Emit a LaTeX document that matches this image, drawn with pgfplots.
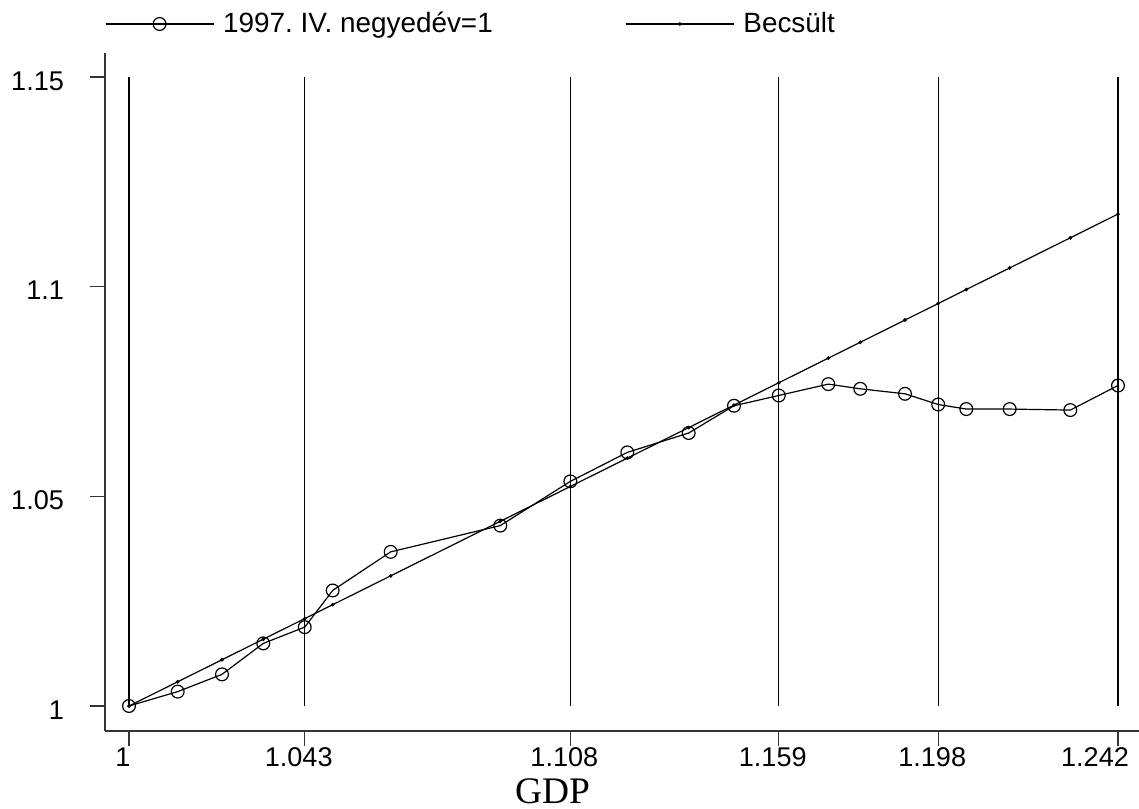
\documentclass[border=0pt]{standalone}
\usepackage{fontspec}
\setmainfont{Liberation Sans}
\newfontfamily\timesfont{Liberation Serif}
\usepackage{pgfplots}
\pgfplotsset{compat=1.18}
\frenchspacing
\begin{document}
\begin{tikzpicture}
\path[use as bounding box] (-52.5bp,-39bp) rectangle (517bp,365.5bp);
\begin{axis}[
  scale only axis,
  width=517bp, height=339bp,
  xmin=0.99413, xmax=1.24714,
  ymin=0.99404, ymax=1.15572,
  axis x line*=bottom, axis y line*=left,
  axis line style={-, line width=0.6bp, black!80},
  tick align=outside,
  major tick length=7.5bp,
  tick style={line width=0.6bp, black!80},
  xtick={1,1.043,1.108,1.159,1.198,1.242},
  xticklabels={1,1.043,1.108,1.159,1.198,{\hspace*{-17bp}1.242}},
  ytick={1,1.05,1.1,1.15},
  yticklabels={1,1.05,1.1,1.15},
  tick label style={font=\fontsize{13.6}{16}\selectfont},
  xticklabel style={yshift=2.5bp, xshift=-3bp},
  yticklabel style={xshift=-9.5bp, yshift=-2bp},
  xlabel={\timesfont GDP},
  xlabel style={font=\fontsize{18.8}{22}\selectfont, at={(axis description cs:0.4328,0)}, anchor=north, inner sep=0pt, yshift=-23.5bp},
  legend columns=2,
  legend style={draw=none, fill=none, inner sep=0pt, outer sep=0pt,
    at={(0,1)}, anchor=west, yshift=14.5bp,
    font=\fontsize{14}{16}\selectfont,
    nodes={inner sep=0pt},
    /tikz/every odd column/.style={column sep=4.5bp},
    /tikz/every even column/.style={column sep=0bp}},
  legend image code/.code={\draw[mark repeat=2,mark phase=2,#1] plot coordinates {(0bp,0bp) (27bp,0bp) (54bp,0bp)};},
]
% vertical reference lines
\addplot[forget plot, black, line width=0.6bp] coordinates {(1,1) (1,1.15)};
\addplot[forget plot, black, line width=0.6bp] coordinates {(1.043,1) (1.043,1.15)};
\addplot[forget plot, black, line width=0.6bp] coordinates {(1.108,1) (1.108,1.15)};
\addplot[forget plot, black, line width=0.6bp] coordinates {(1.159,1) (1.159,1.15)};
\addplot[forget plot, black, line width=0.6bp] coordinates {(1.198,1) (1.198,1.15)};
\addplot[forget plot, black, line width=0.6bp] coordinates {(1.242,1) (1.242,1.15)};
% actual
\addplot[black, line width=0.6bp, mark=o, mark size=3.2bp, mark options={line width=0.6bp}] coordinates {
(1.00000,1.00000)
(1.01192,1.00343)
(1.02276,1.00755)
(1.03286,1.01493)
(1.04300,1.01881)
(1.04984,1.02755)
(1.06404,1.03676)
(1.09085,1.04302)
(1.10800,1.05357)
(1.12193,1.06048)
(1.13695,1.06510)
(1.14804,1.07160)
(1.15900,1.07405)
(1.17111,1.07676)
(1.17894,1.07564)
(1.18988,1.07445)
(1.19800,1.07190)
(1.20488,1.07081)
(1.21550,1.07081)
(1.23033,1.07057)
(1.24200,1.07643)
};
\addlegendentry{\makebox[201bp][l]{1997. IV. negyedév=1}}
% estimated
\addplot[black, line width=0.6bp, mark=*, mark size=0.6bp] coordinates {
(1.00000,1.00000)
(1.01192,1.00578)
(1.02276,1.01103)
(1.03286,1.01593)
(1.04300,1.02084)
(1.04984,1.02416)
(1.06404,1.03104)
(1.09085,1.04404)
(1.10800,1.05235)
(1.12193,1.05911)
(1.13695,1.06639)
(1.14804,1.07176)
(1.15900,1.07708)
(1.17111,1.08295)
(1.17894,1.08674)
(1.18988,1.09204)
(1.19800,1.09598)
(1.20488,1.09932)
(1.21550,1.10446)
(1.23033,1.11165)
(1.24200,1.11731)
};
\addlegendentry{Becsült}
\end{axis}
\end{tikzpicture}
\end{document}
